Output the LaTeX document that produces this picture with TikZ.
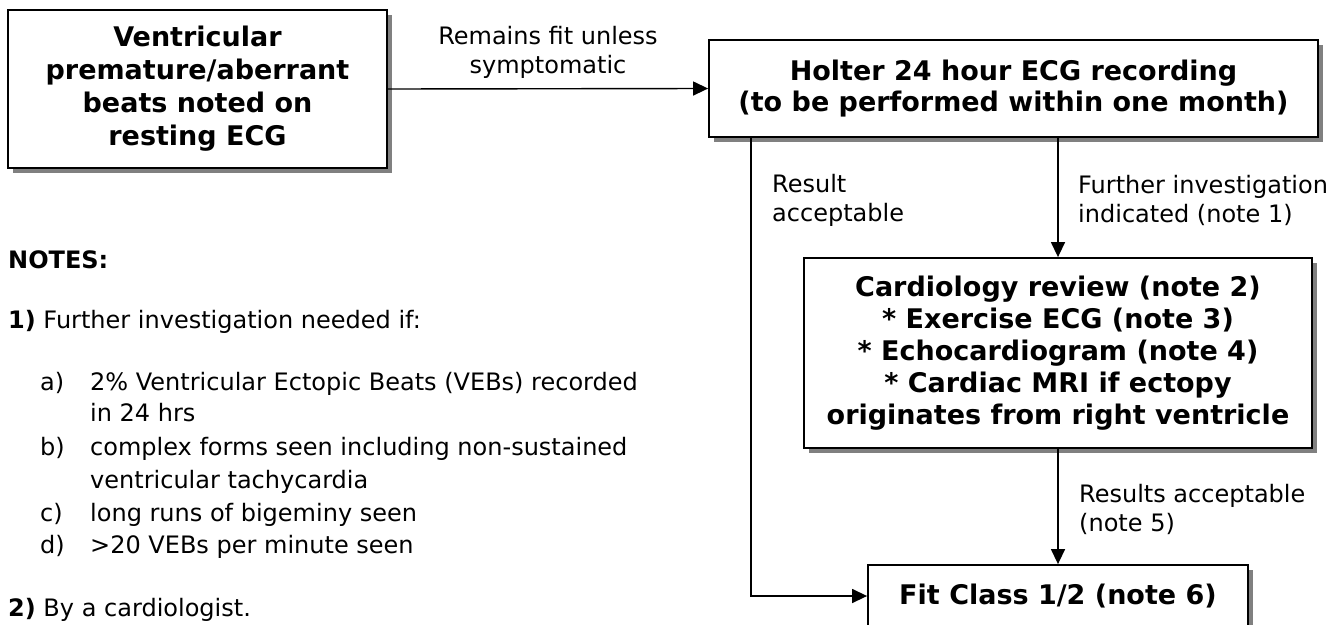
\documentclass[tikz,border=0pt]{standalone}
\usepackage{fontspec}
\setmainfont{DejaVu Sans}
\usetikzlibrary{arrows.meta,shadows,calc}
\begin{document}
\begin{tikzpicture}[x=1pt,y=-1pt,
  box/.style={draw, line width=1.8pt, fill=white, align=center, inner sep=0pt,
    drop shadow={shadow xshift=5pt, shadow yshift=-5pt, fill=black!50, opacity=1},
    font=\fontsize{27}{33}\selectfont\bfseries},
  arr/.style={-{Triangle[length=15pt,width=14pt]}, line width=1.4pt},
  lbl/.style={align=left, inner sep=0pt, font=\fontsize{24}{29}\selectfont},
  note/.style={anchor=base west, inner sep=0pt, font=\fontsize{24}{29}\selectfont}
]
\useasboundingbox (0,0) rectangle (1344,624);

\node[box, minimum width=379, minimum height=158] (start) at (197.5,89)
  {Ventricular\\premature/aberrant\\beats noted on\\resting ECG};
\node[box, minimum width=609, minimum height=97, font=\fontsize{27}{31}\selectfont\bfseries] (holter) at (1013.5,88.5)
  {Holter 24 hour ECG recording\\(to be performed within one month)};
\node[box, minimum width=508, minimum height=190, font=\fontsize{27}{32}\selectfont\bfseries] (card) at (1058,353)
  {Cardiology review (note 2)\\* Exercise ECG (note 3)\\* Echocardiogram (note 4)\\* Cardiac MRI if ectopy\\originates from right ventricle};
\node[box, minimum width=380, minimum height=62] (fit) at (1058,596)
  {Fit Class 1/2 (note 6)};

\draw[arr] (start.east) -- node[lbl, align=center, above=10pt] (l1) {Remains fit unless\\symptomatic} (holter.west);
\draw[arr] (holter.south -| card.north) -- (card.north);
\draw[arr] ([xshift=43pt]holter.south west) coordinate (c1) |- (fit.west);
\draw[arr] (card.south) -- (fit.north);

\node[lbl, anchor=west] (l2) at (772,200) {Result\\acceptable};
\node[lbl, anchor=west] (l3) at (1078,200) {Further investigation\\indicated (note 1)};
\node[lbl, anchor=west] (l4) at (1079,509) {Results acceptable\\(note 5)};

\node[note] (n0) at (8,268) {\bfseries NOTES:};
\node[note] (n1) at (8,328) {\textbf{1)} Further investigation needed if:};
\node[note] (na) at (40,390) {a)};
\node[note] (nat) at (90,390) {2\% Ventricular Ectopic Beats (VEBs) recorded};
\node[note] (nat2) at (90,421) {in 24 hrs};
\node[note] (nb) at (40,455) {b)};
\node[note] (nbt) at (90,455) {complex forms seen including non-sustained};
\node[note] (nbt2) at (90,488) {ventricular tachycardia};
\node[note] (nc) at (40,521) {c)};
\node[note] (nct) at (90,521) {long runs of bigeminy seen};
\node[note] (nd) at (40,553) {d)};
\node[note] (ndt) at (90,553) {>20 VEBs per minute seen};
\node[note] (n2) at (8,616) {\textbf{2)} By a cardiologist.};
\end{tikzpicture}
\end{document}
